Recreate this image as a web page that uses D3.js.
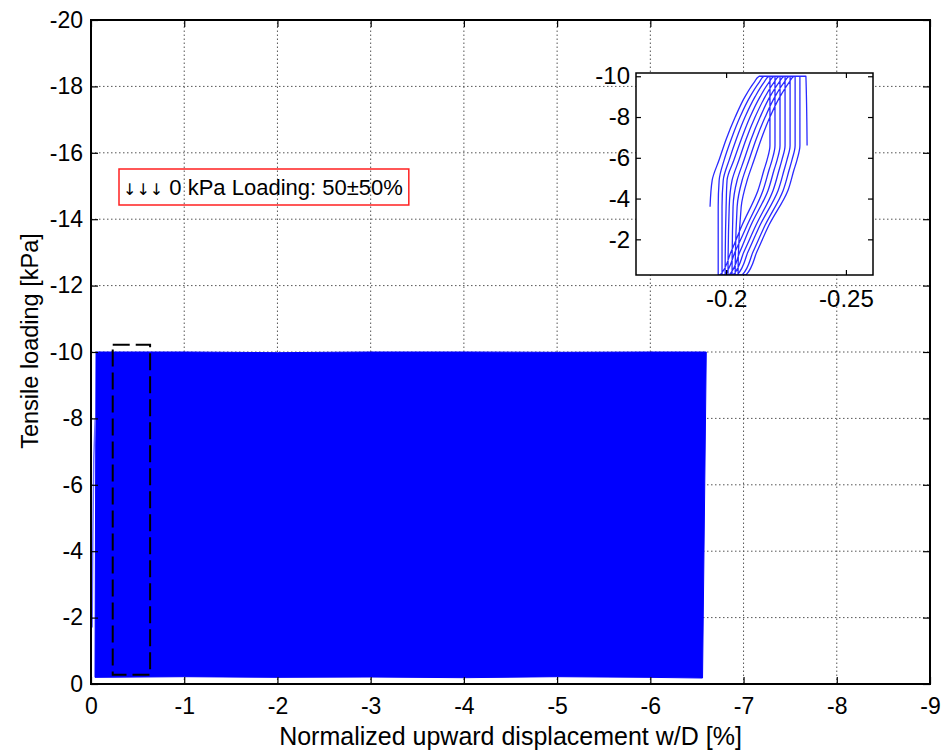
<!DOCTYPE html>
<html>
<head>
<meta charset="utf-8">
<script src="https://cdn.jsdelivr.net/npm/d3@7"></script>
<style>
  body { margin: 0; background: #fff; }
  svg text { font-family: "Liberation Sans", Arial, sans-serif; fill: #000; }
</style>
</head>
<body>
<div id="canvas"></div>
<script>
const dispTicks = [0, -1, -2, -3, -4, -5, -6, -7, -8, -9]
const loadTicks = [0, -2, -4, -6, -8, -10, -12, -14, -16, -18, -20]

// outline of the band covered by the load cycles (main plot)
const bandDisp = [-0.054, -1.0, -2.0, -3.0, -4.0, -5.0, -6.0, -6.6, -6.56, -6.0, -5.0, -4.0, -3.0, -2.0, -1.0, -0.043]
const bandLoad = [-10, -10, -9.98, -10, -10, -9.99, -10, -10, -0.18, -0.2, -0.22, -0.19, -0.21, -0.2, -0.22, -0.2]

// first loading branch at the left edge
const initDisp = [-0.012, -0.02, -0.03, -0.045]
const initLoad = [-1.7, -4.5, -6.8, -8.0]

// dashed box marking the zoomed cycles
const boxDisp = [-0.233, -0.634]
const boxLoad = [-0.28, -10.22]

// inset: load path shared by each cycle, displacement per cycle
const insetLoad = [-0.25, -3.6, -4.9, -5.9, -6.9, -8.0, -9.0, -9.7, -10.0, -10.0, -6.6, -5.9, -5.4, -4.4, -2.7, -1.4, -0.25]
const insetCycles = [
  [null, -0.1933, -0.1942, -0.1971, -0.2000, -0.2038, -0.2079, -0.2117, -0.2138, -0.2183, -0.2183, -0.2171, -0.2158, -0.2133, -0.2067, -0.2021, -0.1975],
  [-0.1967, -0.1967, -0.1971, -0.1992, -0.2021, -0.2058, -0.2100, -0.2138, -0.2158, -0.2204, -0.2204, -0.2192, -0.2179, -0.2154, -0.2088, -0.2038, -0.1992],
  [-0.1983, -0.1983, -0.1988, -0.2013, -0.2042, -0.2079, -0.2121, -0.2158, -0.2179, -0.2225, -0.2225, -0.2213, -0.2200, -0.2175, -0.2104, -0.2058, -0.2013],
  [-0.1996, -0.2000, -0.2004, -0.2033, -0.2063, -0.2100, -0.2142, -0.2179, -0.2200, -0.2246, -0.2246, -0.2233, -0.2221, -0.2196, -0.2125, -0.2075, -0.2029],
  [-0.2008, -0.2013, -0.2025, -0.2054, -0.2083, -0.2121, -0.2163, -0.2200, -0.2221, -0.2267, -0.2267, -0.2254, -0.2242, -0.2217, -0.2142, -0.2092, -0.2046],
  [-0.2025, -0.2029, -0.2046, -0.2075, -0.2104, -0.2142, -0.2183, -0.2221, -0.2242, -0.2288, -0.2288, -0.2275, -0.2263, -0.2238, -0.2163, -0.2113, -0.2067],
  [-0.2038, -0.2046, -0.2067, -0.2096, -0.2125, -0.2163, -0.2204, -0.2242, -0.2263, -0.2308, -0.2308, -0.2296, -0.2283, -0.2258, -0.2179, -0.2129, -0.2083],
  [-0.2050, -0.2063, -0.2088, -0.2117, -0.2146, -0.2183, -0.2225, -0.2263, -0.2283, -0.2333, -0.2338, null, null, null, null, null, null]
]
const insetLoadTicks = [-10, -8, -6, -4, -2]
const insetDispTicks = [-0.2, -0.25]

const legendArrows = '\u2193\u2193\u2193'
const legendText = ' 0 kPa Loading: 50\u00b150%'

const width = 941
const height = 753
const margin = { top: 20, right: 11, bottom: 69, left: 91 }

const svg = d3.select('#canvas')
  .append('svg')
    .attr('width', width)
    .attr('height', height)

const x = d3.scaleLinear()
  .domain([0, -9])
  .range([margin.left, width - margin.right])
const y = d3.scaleLinear()
  .domain([0, -20])
  .range([height - margin.bottom, margin.top])

// grid
const grid = svg.append('g')
  .attr('stroke', '#555')
  .attr('stroke-width', 1)
  .attr('stroke-dasharray', '1.5,2.5')
grid.selectAll('.vg')
  .data(dispTicks.slice(1, -1))
  .enter().append('line')
    .attr('x1', d => x(d)).attr('x2', d => x(d))
    .attr('y1', y(0)).attr('y2', y(-20))
grid.selectAll('.hg')
  .data(loadTicks.slice(1, -1))
  .enter().append('line')
    .attr('y1', d => y(d)).attr('y2', d => y(d))
    .attr('x1', x(0)).attr('x2', x(-9))

// the band of cycles
const bandPts = bandDisp.map((d, i) => [d, bandLoad[i]])
svg.append('path')
  .datum(bandPts)
  .attr('fill', '#0000ff')
  .attr('stroke', '#0000ff')
  .attr('stroke-width', 1)
  .attr('d', d3.line().x(d => x(d[0])).y(d => y(d[1])).curve(d3.curveLinearClosed))

svg.append('path')
  .datum(initDisp.map((d, i) => [d, initLoad[i]]))
  .attr('fill', 'none')
  .attr('stroke', '#6a6aff')
  .attr('stroke-width', 1.5)
  .attr('d', d3.line().x(d => x(d[0])).y(d => y(d[1])))

// dashed box
svg.append('rect')
  .attr('x', x(boxDisp[0]))
  .attr('y', y(boxLoad[1]))
  .attr('width', x(boxDisp[1]) - x(boxDisp[0]))
  .attr('height', y(boxLoad[0]) - y(boxLoad[1]))
  .attr('fill', 'none')
  .attr('stroke', '#000')
  .attr('stroke-width', 2)
  .attr('stroke-dasharray', '17,6')

// axes
function styleAxis(g, size) {
  g.select('.domain').remove()
  g.selectAll('.tick line').attr('stroke', '#000').attr('stroke-width', 1.2)
  g.selectAll('.tick text').attr('font-size', (size || 23) + 'px').attr('fill', '#000')
    .style('font-family', '"Liberation Sans", Arial, sans-serif')
}

svg.append('g')
  .attr('transform', `translate(0, ${y(0)})`)
  .call(d3.axisBottom(x).tickValues(dispTicks).tickSize(-7).tickPadding(14).tickFormat(d => String(d)))
  .call(styleAxis)
svg.append('g')
  .attr('transform', `translate(0, ${y(-20)})`)
  .call(d3.axisTop(x).tickValues(dispTicks).tickSize(-7).tickFormat(''))
  .call(styleAxis)
svg.append('g')
  .attr('transform', `translate(${x(0)}, 0)`)
  .call(d3.axisLeft(y).tickValues(loadTicks).tickSize(-7).tickPadding(8).tickFormat(d => String(d)))
  .call(styleAxis)
svg.append('g')
  .attr('transform', `translate(${x(-9)}, 0)`)
  .call(d3.axisRight(y).tickValues(loadTicks).tickSize(-7).tickFormat(''))
  .call(styleAxis)

svg.append('rect')
  .attr('x', x(0)).attr('y', y(-20))
  .attr('width', x(-9) - x(0)).attr('height', y(0) - y(-20))
  .attr('fill', 'none')
  .attr('stroke', '#000')
  .attr('stroke-width', 2)

svg.append('text')
  .attr('x', (x(0) + x(-9)) / 2)
  .attr('y', 745)
  .attr('text-anchor', 'middle')
  .attr('font-size', '25px')
  .text('Normalized upward displacement w/D [%]')

svg.append('text')
  .attr('transform', 'translate(38, 341) rotate(-90)')
  .attr('text-anchor', 'middle')
  .attr('font-size', '23.5px')
  .text('Tensile loading [kPa]')

// legend
const legend = svg.append('g')
const lt = legend.append('text')
  .attr('x', 123)
  .attr('y', 195)
  .attr('font-size', '22px')
lt.append('tspan')
  .style('font-family', '"DejaVu Sans", sans-serif')
  .attr('font-size', '16px')
  .text(legendArrows)
lt.append('tspan')
  .text(legendText)
const tw = lt.node().getComputedTextLength()
legend.insert('rect', 'text')
  .attr('x', 119).attr('y', 169)
  .attr('width', tw + 10).attr('height', 36)
  .attr('fill', 'none')
  .attr('stroke', '#ff2020')
  .attr('stroke-width', 1.5)

// inset
const ix = d3.scaleLinear().domain([-0.1624, -0.2613]).range([636, 873])
const iy = d3.scaleLinear().domain([-0.25, -10.16]).range([275, 73])

const inset = svg.append('g')
inset.append('rect')
  .attr('x', 636).attr('y', 73)
  .attr('width', 873 - 636).attr('height', 275 - 73)
  .attr('fill', '#fff')

svg.append('defs').append('clipPath').attr('id', 'insetClip')
  .append('rect')
    .attr('x', 636).attr('y', 73)
    .attr('width', 873 - 636).attr('height', 275 - 73)

const insetPts = []
insetCycles.forEach(c => c.forEach((d, i) => insetPts.push([d, insetLoad[i]])))
inset.append('path')
  .datum(insetPts)
  .attr('clip-path', 'url(#insetClip)')
  .attr('fill', 'none')
  .attr('stroke', '#2a2aff')
  .attr('stroke-width', 1.3)
  .attr('stroke-linejoin', 'round')
  .attr('d', d3.line()
    .defined(d => d[0] !== null)
    .x(d => ix(d[0]))
    .y(d => iy(d[1]))
    .curve(d3.curveMonotoneY))

inset.append('g')
  .attr('transform', 'translate(636, 0)')
  .call(d3.axisLeft(iy).tickValues(insetLoadTicks).tickSize(-5).tickPadding(6).tickFormat(d => String(d)))
  .call(g => styleAxis(g, 24))
inset.append('g')
  .attr('transform', 'translate(873, 0)')
  .call(d3.axisRight(iy).tickValues(insetLoadTicks).tickSize(-5).tickFormat(''))
  .call(styleAxis)
inset.append('g')
  .attr('transform', 'translate(0, 275)')
  .call(d3.axisBottom(ix).tickValues(insetDispTicks).tickSize(-5).tickPadding(15).tickFormat(d => String(d)))
  .call(g => styleAxis(g, 24))
inset.append('g')
  .attr('transform', 'translate(0, 73)')
  .call(d3.axisTop(ix).tickValues(insetDispTicks).tickSize(-5).tickFormat(''))
  .call(styleAxis)

inset.append('rect')
  .attr('x', 636).attr('y', 73)
  .attr('width', 873 - 636).attr('height', 275 - 73)
  .attr('fill', 'none')
  .attr('stroke', '#000')
  .attr('stroke-width', 1.5)
</script>
</body>
</html>
